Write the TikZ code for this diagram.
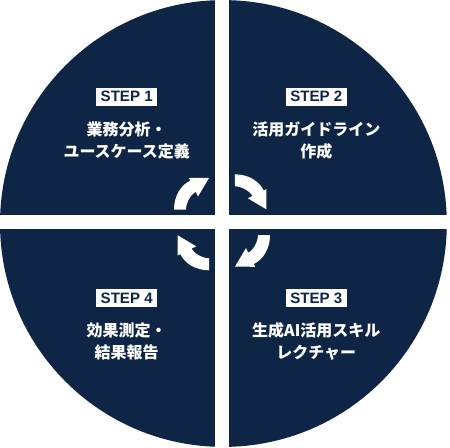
\documentclass[tikz,border=0pt]{standalone}
\usepackage{fontspec}
\setmainfont{Noto Sans CJK JP}
\newfontfamily\stepfont{Liberation Sans}
\usetikzlibrary{positioning}
\definecolor{navy}{HTML}{0E2545}
\tikzset{
	cycle diagram/.cd,
	quadrant/.style = {
		fill = navy
	},
	turn/.style = {
		fill = white
	},
}

\begin{document}
\begin{tikzpicture}[
		x = 0.75pt,
		y = -0.75pt,
		stepbox/.style = {
			fill = white,
			text = navy,
			font = \stepfont\bfseries\fontsize{11.3}{12}\selectfont,
			minimum width = 45.75pt,
			minimum height = 13.5pt,
			inner sep = 0pt
		},
		steptext/.style = {
			text = white,
			align = center,
			font = \fontsize{12}{16.5}\selectfont\bfseries,
			inner sep = 0pt
		}]
		\useasboundingbox (0, 0) rectangle (450, 447);
		\coordinate (hub) at (222, 222.3);
		\begin{scope}
			\clip (223.4, 223.5) circle (223.4);
			\fill[cycle diagram/quadrant] (0, 0) rectangle (215.3, 215.3);
			\fill[cycle diagram/quadrant] (228.7, 0) rectangle (450, 215.3);
			\fill[cycle diagram/quadrant] (228.7, 229.3) rectangle (450, 447);
			\fill[cycle diagram/quadrant] (0, 229.3) rectangle (215.3, 447);
		\end{scope}
		\foreach \turn in {0, -90, -180, -270}{
			\fill[cycle diagram/turn, rotate around = {\turn:(hub)}]
				(174, 209.5) .. controls (174, 195.5) and (181.2, 185) .. (190.2, 180.6)
				-- (188.8, 177.8) -- (209, 178) -- (198, 196.5) -- (195.7, 191.8)
				.. controls (191.2, 194) and (186, 202.5) .. (186, 209.5) -- cycle;
		}
		\foreach \n/\x/\y/\desc in {
				1/126.7/96.7/{業務分析・\\ユースケース定義},
				2/316.3/96.7/{活用ガイドライン\\作成},
				3/316.3/298/{生成AI活用スキル\\レクチャー},
				4/126.7/298/{効果測定・\\結果報告}}{
			\node[stepbox] (step\n) at (\x, \y) {STEP \n};
			\node[steptext, below = 11.5pt of step\n] (desc\n) {\desc};
		}
	\end{tikzpicture}
\end{document}
